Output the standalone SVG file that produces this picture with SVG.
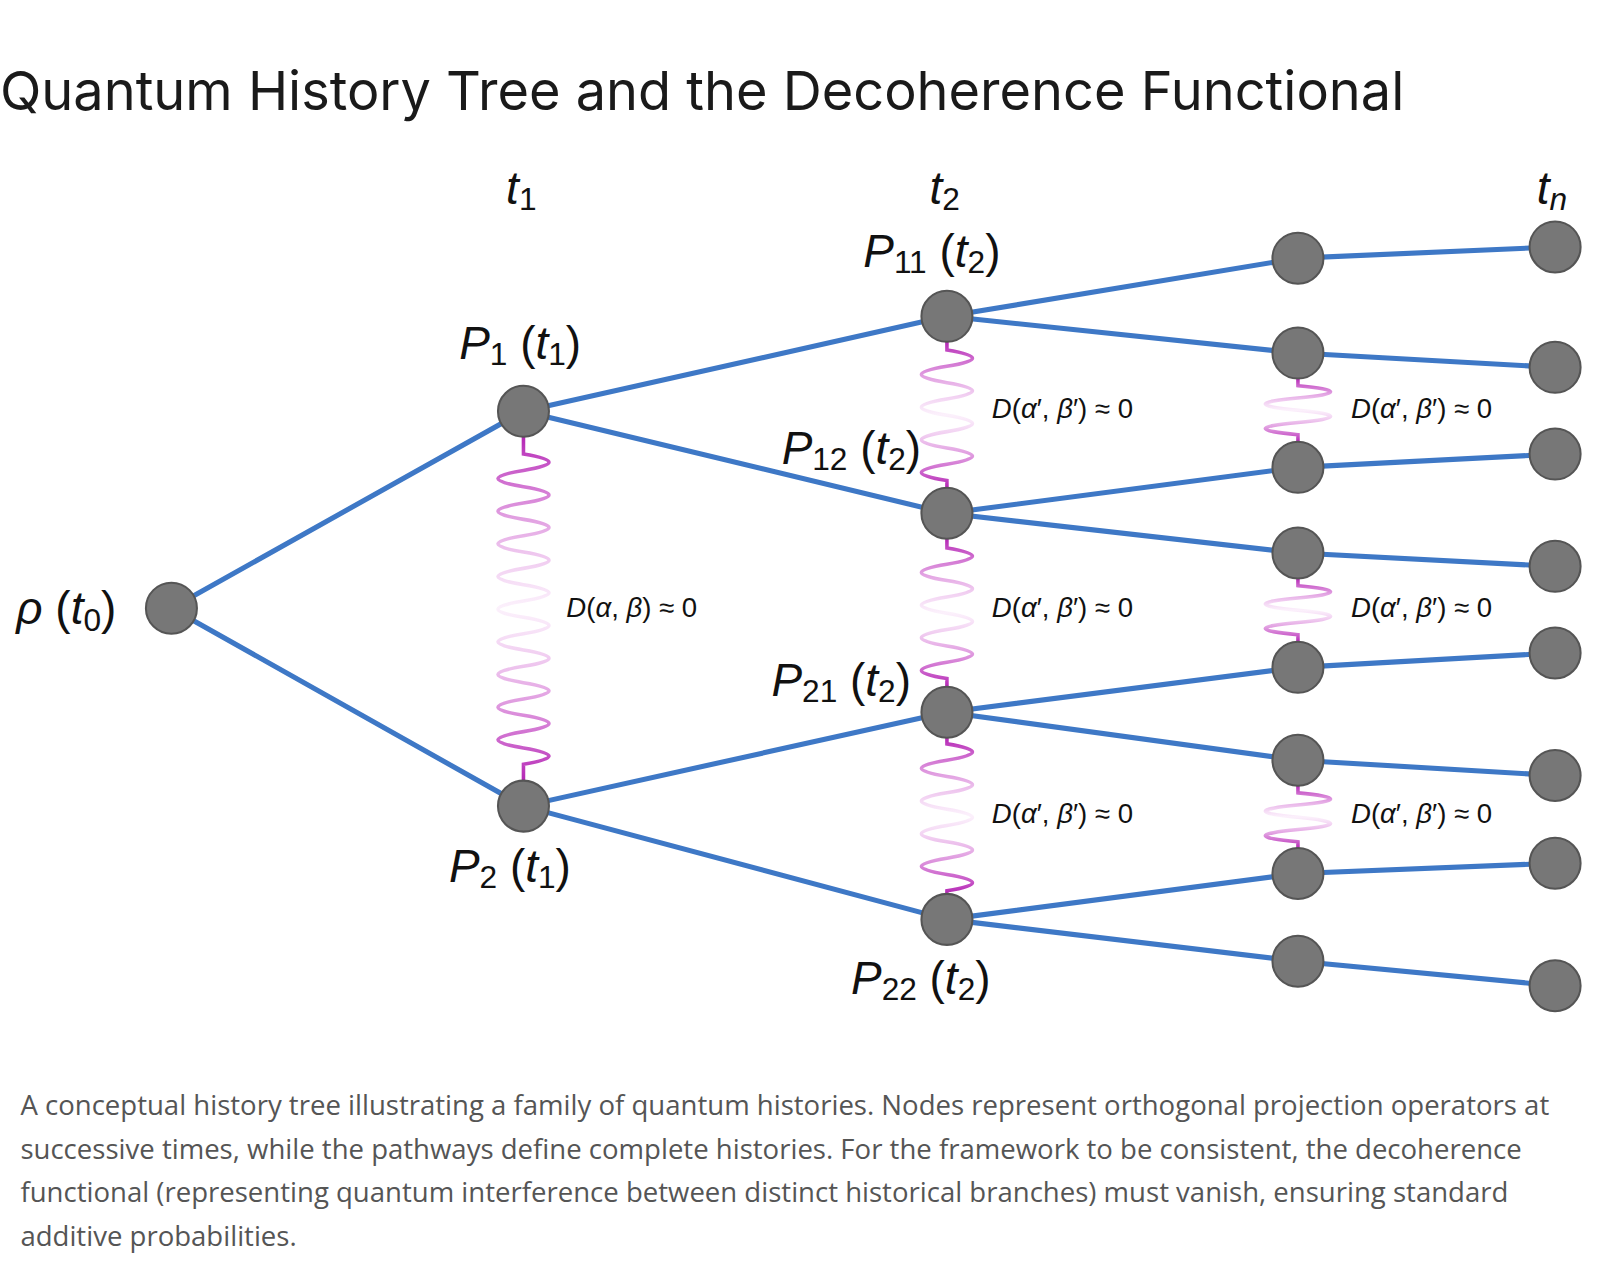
<svg xmlns="http://www.w3.org/2000/svg" width="1600" height="1268" viewBox="0 0 1600 1268">
<defs>
<linearGradient id="fade" x1="0" y1="0" x2="0" y2="1">
<stop offset="0" stop-color="#b526b5"/>
<stop offset="0.5" stop-color="#e8a0e8" stop-opacity="0.15"/>
<stop offset="1" stop-color="#b526b5"/>
</linearGradient>
<style>
.edge{stroke:#3e78c6;stroke-width:5;fill:none;stroke-linecap:round}
.node{fill:#777;stroke:#555;stroke-width:2}
.wave{fill:none;stroke:url(#fade);stroke-width:3.5}
.lbl{font-family:"Liberation Sans","DejaVu Sans",sans-serif;font-size:45px;fill:#111}
.d{font-family:"Liberation Sans","DejaVu Sans",sans-serif;font-size:27px;fill:#111}
.cap{font-family:"Open Sans","Liberation Sans",sans-serif;font-size:27px;fill:#555}
</style>
</defs>
<rect width="1600" height="1268" fill="#fff"/>
<g transform="scale(1.0204)">
<text x="0" y="108" font-family="Inter,'Open Sans',sans-serif" font-size="53" fill="#1a1a1a">Quantum History Tree and the Decoherence Functional</text>
<g id="connectors">
<path class="edge" d="M168,596 L513,403 M168,596 L513,790 M513,403 L928,310 M513,403 L928,503 M513,790 L928,698 M513,790 L928,901 M928,310 L1272,253 M928,310 L1272,346 M928,503 L1272,458 M928,503 L1272,542 M928,698 L1272,654 M928,698 L1272,745 M928,901 L1272,856 M928,901 L1272,942 M1272,253 L1524,242 M1272,346 L1524,360 M1272,458 L1524,445 M1272,542 L1524,555 M1272,654 L1524,640 M1272,745 L1524,760 M1272,856 L1524,846 M1272,942 L1524,966"/>
<path class="wave" d="M513,428 L513,445 q50,8 0,16 t0,16 t0,16 t0,16 t0,16 t0,16 t0,16 t0,16 t0,16 t0,16 t0,16 t0,16 t0,16 t0,16 t0,16 t0,16 t0,16 t0,16 t0,16 L513,765"/>
<path class="wave" d="M928,335 L928,343 q50,8 0,16 t0,16 t0,16 t0,16 t0,16 t0,16 t0,16 t0,16 L928,478"/>
<path class="wave" d="M928,528 L928,537 q50,8 0,16 t0,16 t0,16 t0,16 t0,16 t0,16 t0,16 t0,16 L928,673"/>
<path class="wave" d="M928,723 L928,729 q50,8 0,16 t0,16 t0,16 t0,16 t0,16 t0,16 t0,16 t0,16 t0,16 L928,876"/>
<path class="wave" d="M1272,371 L1272,378 q64,6 0,12 t0,12 t0,12 t0,12 L1272,433"/>
<path class="wave" d="M1272,567 L1272,574 q64,6 0,12 t0,12 t0,12 t0,12 L1272,629"/>
<path class="wave" d="M1272,770 L1272,777 q64,6 0,12 t0,12 t0,12 t0,12 L1272,831"/>
</g>
<g id="n0"><circle class="node" cx="168" cy="596" r="25"/><text class="lbl" x="16" y="612"><tspan font-style="italic">ρ</tspan> (<tspan font-style="italic">t</tspan><tspan font-size="31" dy="6">0</tspan><tspan dy="-6">)</tspan></text></g>
<g id="n1"><circle class="node" cx="513" cy="403" r="25"/><text class="lbl" x="450" y="352"><tspan font-style="italic">P</tspan><tspan font-size="31" dy="6">1</tspan><tspan dy="-6"> (</tspan><tspan font-style="italic">t</tspan><tspan font-size="31" dy="6">1</tspan><tspan dy="-6">)</tspan></text></g>
<g id="n2"><circle class="node" cx="513" cy="790" r="25"/><text class="lbl" x="440" y="864"><tspan font-style="italic">P</tspan><tspan font-size="31" dy="6">2</tspan><tspan dy="-6"> (</tspan><tspan font-style="italic">t</tspan><tspan font-size="31" dy="6">1</tspan><tspan dy="-6">)</tspan></text></g>
<g id="n11"><circle class="node" cx="928" cy="310" r="25"/><text class="lbl" x="846" y="262"><tspan font-style="italic">P</tspan><tspan font-size="31" dy="6">11</tspan><tspan dy="-6"> (</tspan><tspan font-style="italic">t</tspan><tspan font-size="31" dy="6">2</tspan><tspan dy="-6">)</tspan></text></g>
<g id="n12"><circle class="node" cx="928" cy="503" r="25"/><text class="lbl" x="766" y="455"><tspan font-style="italic">P</tspan><tspan font-size="31" dy="6">12</tspan><tspan dy="-6"> (</tspan><tspan font-style="italic">t</tspan><tspan font-size="31" dy="6">2</tspan><tspan dy="-6">)</tspan></text></g>
<g id="n21"><circle class="node" cx="928" cy="698" r="25"/><text class="lbl" x="756" y="682"><tspan font-style="italic">P</tspan><tspan font-size="31" dy="6">21</tspan><tspan dy="-6"> (</tspan><tspan font-style="italic">t</tspan><tspan font-size="31" dy="6">2</tspan><tspan dy="-6">)</tspan></text></g>
<g id="n22"><circle class="node" cx="928" cy="901" r="25"/><text class="lbl" x="834" y="974"><tspan font-style="italic">P</tspan><tspan font-size="31" dy="6">22</tspan><tspan dy="-6"> (</tspan><tspan font-style="italic">t</tspan><tspan font-size="31" dy="6">2</tspan><tspan dy="-6">)</tspan></text></g>
<g id="c3">
<circle class="node" cx="1272" cy="253" r="25"/><circle class="node" cx="1272" cy="346" r="25"/><circle class="node" cx="1272" cy="458" r="25"/><circle class="node" cx="1272" cy="542" r="25"/><circle class="node" cx="1272" cy="654" r="25"/><circle class="node" cx="1272" cy="745" r="25"/><circle class="node" cx="1272" cy="856" r="25"/><circle class="node" cx="1272" cy="942" r="25"/>
</g>
<g id="cn">
<circle class="node" cx="1524" cy="242" r="25"/><circle class="node" cx="1524" cy="360" r="25"/><circle class="node" cx="1524" cy="445" r="25"/><circle class="node" cx="1524" cy="555" r="25"/><circle class="node" cx="1524" cy="640" r="25"/><circle class="node" cx="1524" cy="760" r="25"/><circle class="node" cx="1524" cy="846" r="25"/><circle class="node" cx="1524" cy="966" r="25"/>
</g>
<g id="times">
<text class="lbl" x="496" y="200"><tspan font-style="italic">t</tspan><tspan font-size="31" dy="6">1</tspan></text>
<text class="lbl" x="911" y="200"><tspan font-style="italic">t</tspan><tspan font-size="31" dy="6">2</tspan></text>
<text class="lbl" x="1506" y="200"><tspan font-style="italic">t</tspan><tspan font-size="31" dy="6" font-style="italic">n</tspan></text>
</g>
<g id="dlabels">
<text class="d" x="555" y="605"><tspan font-style="italic">D</tspan>(<tspan font-style="italic">α</tspan>, <tspan font-style="italic">β</tspan>) ≈ 0</text>
<text class="d" x="972" y="410"><tspan font-style="italic">D</tspan>(<tspan font-style="italic">α</tspan>′, <tspan font-style="italic">β</tspan>′) ≈ 0</text>
<text class="d" x="972" y="605"><tspan font-style="italic">D</tspan>(<tspan font-style="italic">α</tspan>′, <tspan font-style="italic">β</tspan>′) ≈ 0</text>
<text class="d" x="972" y="807"><tspan font-style="italic">D</tspan>(<tspan font-style="italic">α</tspan>′, <tspan font-style="italic">β</tspan>′) ≈ 0</text>
<text class="d" x="1324" y="410"><tspan font-style="italic">D</tspan>(<tspan font-style="italic">α</tspan>′, <tspan font-style="italic">β</tspan>′) ≈ 0</text>
<text class="d" x="1324" y="605"><tspan font-style="italic">D</tspan>(<tspan font-style="italic">α</tspan>′, <tspan font-style="italic">β</tspan>′) ≈ 0</text>
<text class="d" x="1324" y="807"><tspan font-style="italic">D</tspan>(<tspan font-style="italic">α</tspan>′, <tspan font-style="italic">β</tspan>′) ≈ 0</text>
</g>
<g id="caption">
<text class="cap" x="20" y="1093">A conceptual history tree illustrating a family of quantum histories. Nodes represent orthogonal projection operators at</text>
<text class="cap" x="20" y="1136">successive times, while the pathways define complete histories. For the framework to be consistent, the decoherence</text>
<text class="cap" x="20" y="1178">functional (representing quantum interference between distinct historical branches) must vanish, ensuring standard</text>
<text class="cap" x="20" y="1221">additive probabilities.</text>
</g>
</g>
</svg>
